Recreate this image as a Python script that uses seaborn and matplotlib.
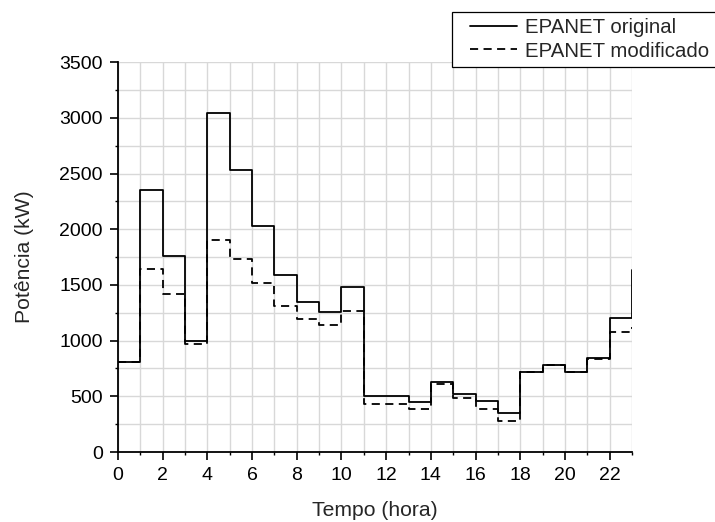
import matplotlib
matplotlib.use("Agg")
import matplotlib.pyplot as plt
import seaborn as sns
import pandas as pd
from matplotlib.ticker import MultipleLocator
from matplotlib.lines import Line2D
from matplotlib.legend_handler import HandlerLine2D

hours = list(range(24))
epanet_original = [810, 2350, 1760, 1000, 3040, 2530, 2030, 1590, 1345, 1260,
                   1480, 500, 500, 450, 625, 525, 455, 350, 720, 785,
                   720, 840, 1200, 1630]
epanet_modificado = [810, 1640, 1420, 970, 1900, 1735, 1520, 1315, 1195, 1140,
                     1268, 430, 430, 385, 607, 482, 386, 277, 715, 781,
                     715, 832, 1075, 1120]
series_names = ["EPANET original", "EPANET modificado"]

df = pd.DataFrame({"hora": hours, series_names[0]: epanet_original,
                   series_names[1]: epanet_modificado})

sns.set_style("ticks")
plt.rcParams["font.family"] = ["Liberation Sans", "DejaVu Sans"]

fig = plt.figure(figsize=(7.15, 5.22), dpi=100)
ax = fig.add_axes([0.165, 0.134, 0.719, 0.747])

sns.lineplot(data=df, x="hora", y=series_names[0], ax=ax, color="black",
             linewidth=1.3, drawstyle="steps-post", label=series_names[0])
sns.lineplot(data=df, x="hora", y=series_names[1], ax=ax, color="black",
             linewidth=1.3, drawstyle="steps-post", dashes=(4.5, 3),
             label=series_names[1])

ax.set_xlim(0, 23)
ax.set_ylim(0, 3500)
ax.xaxis.set_major_locator(MultipleLocator(2))
ax.xaxis.set_minor_locator(MultipleLocator(1))
ax.yaxis.set_major_locator(MultipleLocator(500))
ax.yaxis.set_minor_locator(MultipleLocator(250))
ax.grid(True, which="both", color="#d8d8d8", linewidth=1.0)
ax.set_axisbelow(True)

for s in ["top", "right"]:
    ax.spines[s].set_visible(False)
for s in ["left", "bottom"]:
    ax.spines[s].set_color("black")
    ax.spines[s].set_linewidth(1.3)

ax.tick_params(which="major", direction="out", length=6, width=1.2,
               color="black", labelsize=14, labelcolor="black", pad=5)
ax.tick_params(which="minor", direction="out", length=2.5, width=1.0,
               color="black")

ax.set_xlabel("Tempo (hora)", fontsize=15.2, labelpad=12)
ax.set_ylabel("Potência (kW)", fontsize=15.2, labelpad=18)

leg = ax.legend(loc="upper left", bbox_to_anchor=(0.632, 0.977),
                bbox_transform=fig.transFigure, fontsize=14.7, frameon=True,
                fancybox=False, edgecolor="black", framealpha=1,
                handlelength=2.9, borderpad=0.3, labelspacing=0.22,
                handletextpad=0.4, borderaxespad=0,
                handler_map={Line2D: HandlerLine2D(xpad=0.6)})
leg.get_frame().set_linewidth(0.9)

fig.savefig("out.png", dpi=100)
